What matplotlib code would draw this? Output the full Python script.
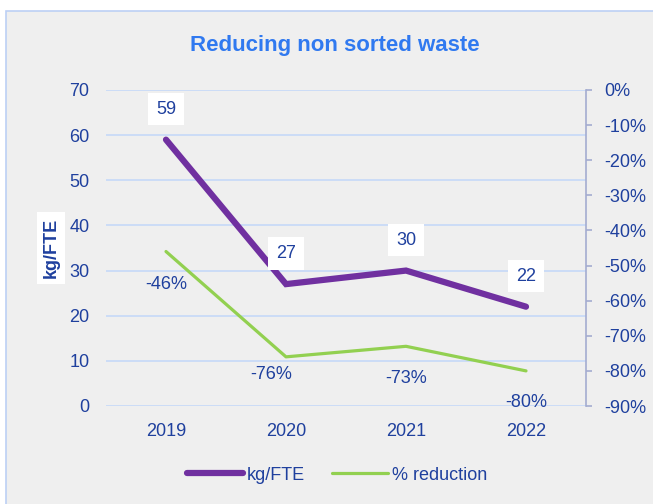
import matplotlib
matplotlib.use("Agg")
import matplotlib.pyplot as plt
from matplotlib.patches import Rectangle
from matplotlib.ticker import FuncFormatter, MultipleLocator

plt.rcParams['font.family'] = ['Liberation Sans', 'DejaVu Sans']

years = ['2019', '2020', '2021', '2022']
kg_fte = [59, 27, 30, 22]
pct_reduction = [-0.46, -0.76, -0.73, -0.80]
kg_labels = ['59', '27', '30', '22']
pct_labels = ['-46%', '-76%', '-73%', '-80%']

TXT = '#1f409e'
PURPLE = '#7030a0'
GREEN = '#92d050'
GRID = '#c9dbf7'
SPINE = '#a4acd0'

W, H = 653, 504
fig = plt.figure(figsize=(W / 100, H / 100), dpi=100)
fig.patch.set_facecolor('white')
fig.patches.append(Rectangle((6 / W, -0.01), 1.0, 1 - 10.5 / H + 0.01,
                             transform=fig.transFigure, facecolor='#efefef',
                             edgecolor='#bcd0f5', linewidth=1.2, zorder=-10))

ax = fig.add_axes([106 / W, 1 - 406 / H, 480 / W, 316 / H])
ax.set_facecolor('none')
x = list(range(len(years)))

ax.set_xlim(-0.5, 3.5)
ax.set_ylim(0, 70)
ax.yaxis.set_major_locator(MultipleLocator(10))
ax.grid(axis='y', color=GRID, linewidth=1.3)
ax.set_axisbelow(True)
for s in ax.spines.values():
    s.set_visible(False)
ax.tick_params(axis='y', length=0, pad=12, labelsize=13, labelcolor=TXT)
ax.tick_params(axis='x', length=0, pad=12, labelsize=13, labelcolor=TXT)
ax.set_xticks(x)
ax.set_xticklabels(years)

ax.plot(x, kg_fte, color=PURPLE, linewidth=4.5, solid_capstyle='round',
        solid_joinstyle='miter', zorder=3, label='kg/FTE')

ax2 = ax.twinx()
ax2.set_ylim(-0.9, 0)
ax2.yaxis.set_major_locator(MultipleLocator(0.1))
ax2.yaxis.set_major_formatter(FuncFormatter(lambda v, p: f"{int(round(v * 100))}%"))
for k, s in ax2.spines.items():
    s.set_visible(k == 'right')
ax2.spines['right'].set_color(SPINE)
ax2.spines['right'].set_linewidth(1.2)
ax2.tick_params(axis='y', length=4, width=1.2, color=SPINE, pad=9,
                labelsize=13, labelcolor=TXT)

ax2.plot(x, pct_reduction, color=GREEN, linewidth=2.3, solid_capstyle='round',
         zorder=3, label='% reduction')

# data labels
for xi, v, t in zip(x, kg_fte, kg_labels):
    ax2.annotate(t, xy=(xi, v), xycoords=ax.transData, xytext=(0, 22),
                 textcoords='offset points', ha='center', va='center',
                 fontsize=13, color=TXT, zorder=5,
                 bbox=dict(boxstyle='square,pad=0.42', facecolor='white',
                           edgecolor='none'))

pct_offsets = [(0, -23.5), (-11, -12.5), (0, -23), (0, -23)]
for xi, v, t, off in zip(x, pct_reduction, pct_labels, pct_offsets):
    ax2.annotate(t, xy=(xi, v), xytext=off, textcoords='offset points',
                 ha='center', va='center', fontsize=13, color=TXT, zorder=5)

fig.text(51 / W, 1 - 248 / H, 'kg/FTE', rotation=90, ha='center', va='center',
         fontsize=13, fontweight='bold', color=TXT,
         bbox=dict(boxstyle='square,pad=0.3', facecolor='white', edgecolor='none'))

fig.text(335 / W, 1 - 45 / H, 'Reducing non sorted waste', ha='center',
         va='center', fontsize=16, fontweight='bold', color='#3079f0')

h1, l1 = ax.get_legend_handles_labels()
h2, l2 = ax2.get_legend_handles_labels()
fig.legend(h1 + h2, l1 + l2, loc='center', bbox_to_anchor=(337 / W, 1 - 475 / H),
           ncol=2, frameon=False, fontsize=13, handlelength=3.1,
           handletextpad=0.2, columnspacing=1.5, labelcolor=TXT)

fig.savefig('out.png', dpi=100)
